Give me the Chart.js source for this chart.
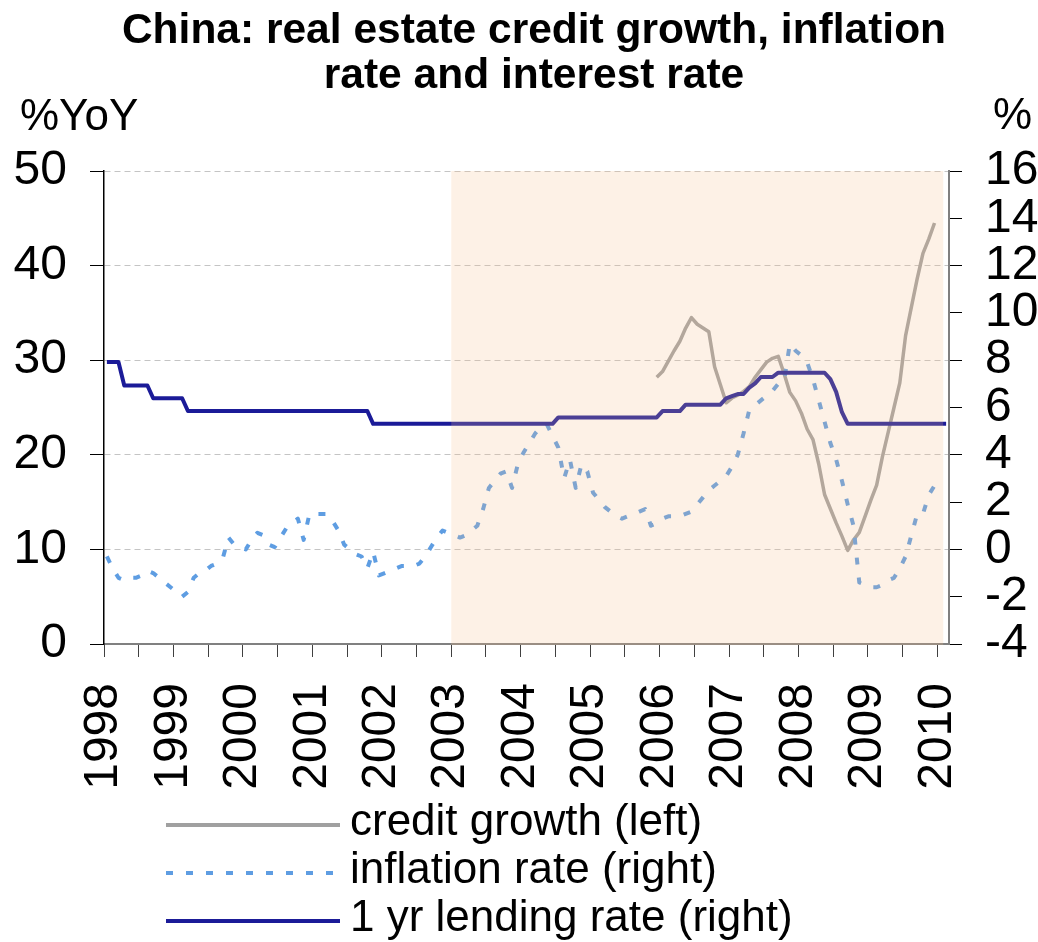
<!DOCTYPE html>
<html lang="en">
<head>
<meta charset="utf-8">
<title>China: real estate credit growth, inflation rate and interest rate</title>
<script src="https://cdn.jsdelivr.net/npm/chart.js@4.4.1/dist/chart.umd.min.js"></script>
<style>
  html, body { margin: 0; padding: 0; background: #fff; }
  canvas { display: block; }
</style>
</head>
<body>
<canvas id="chart" width="1038" height="942"></canvas>
<script>
/* ---------- Data (monthly, Jan 1998 .. Feb 2010) ---------- */
const START_YEAR = 1998;
const TITLE_LINES = ['China: real estate credit growth, inflation', 'rate and interest rate'];
const UNIT_LEFT = '%YoY';
const UNIT_RIGHT = '%';
const SERIES_LABELS = ['credit growth (left)', 'inflation rate (right)', '1 yr lending rate (right)'];

// %YoY, left axis
const creditGrowth = [
  null, null, null, null, null, null, null, null, null, null, null, null, // 1998
  null, null, null, null, null, null, null, null, null, null, null, null, // 1999
  null, null, null, null, null, null, null, null, null, null, null, null, // 2000
  null, null, null, null, null, null, null, null, null, null, null, null, // 2001
  null, null, null, null, null, null, null, null, null, null, null, null, // 2002
  null, null, null, null, null, null, null, null, null, null, null, null, // 2003
  null, null, null, null, null, null, null, null, null, null, null, null, // 2004
  null, null, null, null, null, null, null, null, null, null, null, 28.2, // 2005
  28.8, 29.9, 31.0, 32.0, 33.4, 34.5, 33.8, 33.4, 33.0, 29.3, 27.4, 25.5, // 2006
  26.0, 26.3, 26.7, 27.2, 28.2, 29.0, 29.8, 30.2, 30.4, 28.6, 26.6, 25.7, // 2007
  24.4, 22.7, 21.6, 19.0, 15.8, 14.3, 12.8, 11.4, 9.9, 11.0, 11.8, 13.5,  // 2008
  15.2, 16.8, 19.8, 22.4, 25.0, 27.6, 32.6, 35.6, 38.6, 41.3, 42.8, 44.5, // 2009
  null, null                                                              // 2010
];

// %, right axis
const inflationRate = [
  -0.3, -0.8, -1.2, -1.3, -1.2, -1.2, -1.1, -0.9, -1.0, -1.2, -1.4, -1.6, // 1998
  -1.8, -2.0, -1.8, -1.2, -1.0, -0.9, -0.7, -0.6, -0.4, 0.5, 0.2, 0.1,    // 1999
  0.0, 0.4, 0.7, 0.6, 0.2, 0.1, 0.5, 0.9, 1.1, 1.3, 0.4, 1.5,             // 2000
  1.5, 1.5, 1.5, 1.2, 0.8, 0.2, 0.0, -0.2, -0.3, -0.8, -0.1, -1.1,        // 2001
  -1.0, -0.9, -0.8, -0.7, -0.7, -0.7, -0.6, -0.3, 0.1, 0.5, 0.8, 0.7,     // 2002
  0.6, 0.5, 0.6, 0.8, 1.0, 1.7, 2.6, 2.9, 3.2, 3.3, 2.6, 3.6,             // 2003
  4.1, 4.5, 4.9, 5.2, 5.3, 4.8, 4.3, 3.0, 3.8, 2.6, 3.6, 3.3,             // 2004
  2.4, 2.1, 1.8, 1.6, 1.4, 1.3, 1.4, 1.5, 1.6, 1.7, 1.0, 1.1,             // 2005
  1.3, 1.4, 1.4, 1.4, 1.5, 1.6, 1.9, 2.2, 2.5, 2.7, 2.9, 3.1,             // 2006
  3.5, 4.0, 4.9, 5.9, 6.1, 6.3, 6.5, 6.7, 7.0, 7.1, 8.7, 8.4,             // 2007
  8.2, 7.9, 7.2, 6.3, 5.4, 4.5, 3.8, 2.9, 1.9, 1.0, -1.4, -1.5,           // 2008
  -1.6, -1.6, -1.5, -1.3, -1.2, -0.8, -0.3, 0.6, 1.5, 1.5, 2.3, 2.7,      // 2009
  3.0, null                                                               // 2010
];

// %, right axis
const lendingRate = [
  7.92, 7.92, 7.92, 6.93, 6.93, 6.93, 6.93, 6.93, 6.39, 6.39, 6.39, 6.39, // 1998
  6.39, 6.39, 5.85, 5.85, 5.85, 5.85, 5.85, 5.85, 5.85, 5.85, 5.85, 5.85, // 1999
  5.85, 5.85, 5.85, 5.85, 5.85, 5.85, 5.85, 5.85, 5.85, 5.85, 5.85, 5.85, // 2000
  5.85, 5.85, 5.85, 5.85, 5.85, 5.85, 5.85, 5.85, 5.85, 5.85, 5.31, 5.31, // 2001
  5.31, 5.31, 5.31, 5.31, 5.31, 5.31, 5.31, 5.31, 5.31, 5.31, 5.31, 5.31, // 2002
  5.31, 5.31, 5.31, 5.31, 5.31, 5.31, 5.31, 5.31, 5.31, 5.31, 5.31, 5.31, // 2003
  5.31, 5.31, 5.31, 5.31, 5.31, 5.31, 5.58, 5.58, 5.58, 5.58, 5.58, 5.58, // 2004
  5.58, 5.58, 5.58, 5.58, 5.58, 5.58, 5.58, 5.58, 5.58, 5.58, 5.58, 5.58, // 2005
  5.85, 5.85, 5.85, 5.85, 6.12, 6.12, 6.12, 6.12, 6.12, 6.12, 6.12, 6.39, // 2006
  6.48, 6.57, 6.57, 6.84, 7.02, 7.29, 7.29, 7.29, 7.47, 7.47, 7.47, 7.47, // 2007
  7.47, 7.47, 7.47, 7.47, 7.47, 7.20, 6.66, 5.80, 5.31, 5.31, 5.31, 5.31, // 2008
  5.31, 5.31, 5.31, 5.31, 5.31, 5.31, 5.31, 5.31, 5.31, 5.31, 5.31, 5.31, // 2009
  5.31, 5.31                                                              // 2010
];

// shaded period, in months from Jan 1998 (Jan 2003 .. end)
const shadedPeriod = [60, 145];
const MONTHS = lendingRate.length;

/* ---------- Style ---------- */
const FONT = '"Liberation Sans", Arial, Helvetica, sans-serif';
const C_CREDIT = '#A0A0A0';
const C_INFL = '#5E9DE2';
const C_LEND = '#1B1B98';
const INFL_DASH = [7, 13];

// points sit in the middle of each month slot
const toPoints = arr => arr.map((v, i) => ({ x: i + 0.5, y: v }));

/* ---------- Plugins ---------- */
// Peach band drawn over the lines, like the original
const shadeBand = {
  id: 'shadeBand',
  afterDatasetsDraw(chart) {
    const { ctx, chartArea, scales: { x } } = chart;
    const x0 = x.getPixelForValue(shadedPeriod[0]);
    const x1 = x.getPixelForValue(shadedPeriod[1]);
    ctx.save();
    ctx.fillStyle = 'rgba(246,192,143,0.22)';
    ctx.fillRect(x0, chartArea.top, x1 - x0, chartArea.bottom - chartArea.top + 1);
    ctx.restore();
  }
};

// Title, axis units and the stacked legend
const chartTexts = {
  id: 'chartTexts',
  afterDraw(chart) {
    const { ctx } = chart;
    ctx.save();
    ctx.fillStyle = '#000';
    ctx.textBaseline = 'alphabetic';
    ctx.textAlign = 'center';
    ctx.font = `bold 42.5px ${FONT}`;
    TITLE_LINES.forEach((t, i) => ctx.fillText(t, 534, 43 + i * 45));

    ctx.font = `44px ${FONT}`;
    ctx.textAlign = 'left';
    ctx.fillText(UNIT_LEFT, 20, 130);
    ctx.textAlign = 'right';
    ctx.fillText(UNIT_RIGHT, 1032, 129);

    ctx.textAlign = 'left';
    SERIES_LABELS.forEach((label, i) => {
      const ds = chart.data.datasets[i];
      const y = 825 + i * 48;
      ctx.beginPath();
      ctx.strokeStyle = ds.borderColor;
      ctx.lineWidth = 4;
      ctx.setLineDash(ds.borderDash || []);
      ctx.moveTo(166, y);
      ctx.lineTo(340, y);
      ctx.stroke();
      ctx.setLineDash([]);
      ctx.fillText(label, 350, y + 10);
    });
    ctx.restore();
  }
};

/* ---------- Chart ---------- */
const tickFont = { family: FONT, size: 48 };

new Chart(document.getElementById('chart'), {
  type: 'line',
  data: {
    datasets: [
      { label: SERIES_LABELS[0], data: toPoints(creditGrowth), yAxisID: 'yL',
        borderColor: C_CREDIT, borderWidth: 3.5, order: 3 },
      { label: SERIES_LABELS[1], data: toPoints(inflationRate), yAxisID: 'yR',
        borderColor: C_INFL, borderWidth: 4, borderDash: INFL_DASH, borderCapStyle: 'butt', order: 2 },
      { label: SERIES_LABELS[2], data: toPoints(lendingRate), yAxisID: 'yR',
        borderColor: C_LEND, borderWidth: 4, order: 1 }
    ]
  },
  options: {
    responsive: false,
    animation: false,
    devicePixelRatio: 1,
    layout: { padding: { top: 171, left: 0, right: 0, bottom: 0 } },
    elements: {
      point: { radius: 0, hoverRadius: 0 },
      line: { tension: 0, fill: false, borderJoinStyle: 'round' }
    },
    plugins: {
      legend: { display: false },
      title: { display: false },
      tooltip: { enabled: false }
    },
    scales: {
      x: {
        type: 'linear',
        min: 0,
        max: MONTHS,
        afterFit: s => { s.height = 298; },
        grid: { drawOnChartArea: false, tickLength: 13, tickColor: '#404040' },
        border: { color: '#808080', width: 2 },
        ticks: {
          stepSize: 6,
          includeBounds: false,
          autoSkip: false,
          minRotation: 90,
          maxRotation: 90,
          padding: 26,
          color: '#000',
          font: tickFont,
          callback: v => (v % 12 === 0 ? String(START_YEAR + v / 12) : '')
        }
      },
      yL: {
        position: 'left',
        min: 0,
        max: 50,
        afterFit: s => { s.width = 104; },
        grid: {
          color: c => (c.tick.value === 0 ? 'rgba(0,0,0,0)' : '#C4C4C4'),
          tickColor: '#000',
          tickLength: 14
        },
        border: { color: '#000', width: 1.5, dash: [6, 4] },
        ticks: { stepSize: 10, autoSkip: false, padding: 23, color: '#000', font: tickFont }
      },
      yR: {
        position: 'right',
        min: -4,
        max: 16,
        afterFit: s => { s.width = 89; },
        grid: { drawOnChartArea: false, tickLength: 13, tickColor: '#000' },
        border: { color: '#808080', width: 2 },
        ticks: { stepSize: 2, autoSkip: false, padding: 23, color: '#000', font: tickFont }
      }
    }
  },
  plugins: [shadeBand, chartTexts]
});
</script>
</body>
</html>
